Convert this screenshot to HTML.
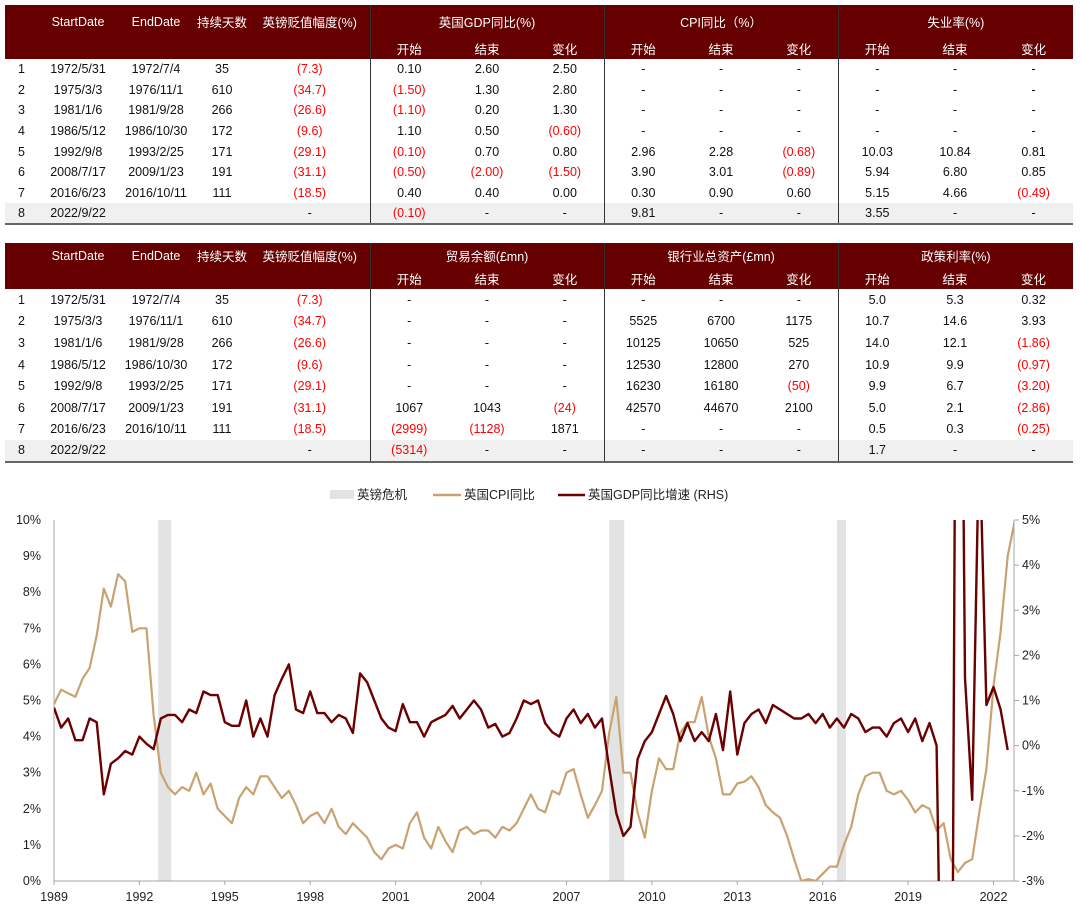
<!DOCTYPE html>
<html><head><meta charset="utf-8">
<style>
body{margin:0;background:#fff;width:1080px;height:906px;overflow:hidden;font-family:"Liberation Sans","Noto Sans CJK SC",sans-serif;position:relative}
table{position:absolute;left:5px;border-collapse:collapse;table-layout:fixed;width:1068px;font-size:12.5px;color:#111}
th{background:#660000;color:#fff;font-weight:normal;font-size:12.5px;padding:0;text-align:center}
td{padding:0;text-align:center;white-space:nowrap}
td.n{color:#f00}
tr.last td{background:#f0f0f0}
.g{border-left:1px solid #333}
table{border-bottom:2px solid #666}
</style></head><body>

<table style="top:5px">
<colgroup><col style="width:33px"><col style="width:80px"><col style="width:76px"><col style="width:56px"><col style="width:120px"><col style="width:78px"><col style="width:78px"><col style="width:78px"><col style="width:78px"><col style="width:78px"><col style="width:78px"><col style="width:78px"><col style="width:78px"><col style="width:79px"></colgroup>
<tr style="height:33px"><th></th><th>StartDate</th><th>EndDate</th><th>持续天数</th><th>英镑贬值幅度(%)</th><th colspan="3" class="g">英国GDP同比(%)</th><th colspan="3" class="g">CPI同比（%）</th><th colspan="3" class="g">失业率(%)</th></tr>
<tr style="height:21px"><th></th><th></th><th></th><th></th><th></th><th class="g">开始</th><th>结束</th><th>变化</th><th class="g">开始</th><th>结束</th><th>变化</th><th class="g">开始</th><th>结束</th><th>变化</th></tr>
<tr style="height:20.6px"><td>1</td><td>1972/5/31</td><td>1972/7/4</td><td>35</td><td class="n">(7.3)</td><td class="g">0.10</td><td>2.60</td><td>2.50</td><td class="g">-</td><td>-</td><td>-</td><td class="g">-</td><td>-</td><td>-</td></tr>
<tr style="height:20.6px"><td>2</td><td>1975/3/3</td><td>1976/11/1</td><td>610</td><td class="n">(34.7)</td><td class="g n">(1.50)</td><td>1.30</td><td>2.80</td><td class="g">-</td><td>-</td><td>-</td><td class="g">-</td><td>-</td><td>-</td></tr>
<tr style="height:20.6px"><td>3</td><td>1981/1/6</td><td>1981/9/28</td><td>266</td><td class="n">(26.6)</td><td class="g n">(1.10)</td><td>0.20</td><td>1.30</td><td class="g">-</td><td>-</td><td>-</td><td class="g">-</td><td>-</td><td>-</td></tr>
<tr style="height:20.6px"><td>4</td><td>1986/5/12</td><td>1986/10/30</td><td>172</td><td class="n">(9.6)</td><td class="g">1.10</td><td>0.50</td><td class="n">(0.60)</td><td class="g">-</td><td>-</td><td>-</td><td class="g">-</td><td>-</td><td>-</td></tr>
<tr style="height:20.6px"><td>5</td><td>1992/9/8</td><td>1993/2/25</td><td>171</td><td class="n">(29.1)</td><td class="g n">(0.10)</td><td>0.70</td><td>0.80</td><td class="g">2.96</td><td>2.28</td><td class="n">(0.68)</td><td class="g">10.03</td><td>10.84</td><td>0.81</td></tr>
<tr style="height:20.6px"><td>6</td><td>2008/7/17</td><td>2009/1/23</td><td>191</td><td class="n">(31.1)</td><td class="g n">(0.50)</td><td class="n">(2.00)</td><td class="n">(1.50)</td><td class="g">3.90</td><td>3.01</td><td class="n">(0.89)</td><td class="g">5.94</td><td>6.80</td><td>0.85</td></tr>
<tr style="height:20.6px"><td>7</td><td>2016/6/23</td><td>2016/10/11</td><td>111</td><td class="n">(18.5)</td><td class="g">0.40</td><td>0.40</td><td>0.00</td><td class="g">0.30</td><td>0.90</td><td>0.60</td><td class="g">5.15</td><td>4.66</td><td class="n">(0.49)</td></tr>
<tr style="height:20.6px" class="last"><td>8</td><td>2022/9/22</td><td></td><td></td><td>-</td><td class="g n">(0.10)</td><td>-</td><td>-</td><td class="g">9.81</td><td>-</td><td>-</td><td class="g">3.55</td><td>-</td><td>-</td></tr>
</table>

<table style="top:243px">
<colgroup><col style="width:33px"><col style="width:80px"><col style="width:76px"><col style="width:56px"><col style="width:120px"><col style="width:78px"><col style="width:78px"><col style="width:78px"><col style="width:78px"><col style="width:78px"><col style="width:78px"><col style="width:78px"><col style="width:78px"><col style="width:79px"></colgroup>
<tr style="height:25px"><th></th><th>StartDate</th><th>EndDate</th><th>持续天数</th><th>英镑贬值幅度(%)</th><th colspan="3" class="g">贸易余额(£mn)</th><th colspan="3" class="g">银行业总资产(£mn)</th><th colspan="3" class="g">政策利率(%)</th></tr>
<tr style="height:21px"><th></th><th></th><th></th><th></th><th></th><th class="g">开始</th><th>结束</th><th>变化</th><th class="g">开始</th><th>结束</th><th>变化</th><th class="g">开始</th><th>结束</th><th>变化</th></tr>
<tr style="height:21.6px"><td>1</td><td>1972/5/31</td><td>1972/7/4</td><td>35</td><td class="n">(7.3)</td><td class="g">-</td><td>-</td><td>-</td><td class="g">-</td><td>-</td><td>-</td><td class="g">5.0</td><td>5.3</td><td>0.32</td></tr>
<tr style="height:21.6px"><td>2</td><td>1975/3/3</td><td>1976/11/1</td><td>610</td><td class="n">(34.7)</td><td class="g">-</td><td>-</td><td>-</td><td class="g">5525</td><td>6700</td><td>1175</td><td class="g">10.7</td><td>14.6</td><td>3.93</td></tr>
<tr style="height:21.6px"><td>3</td><td>1981/1/6</td><td>1981/9/28</td><td>266</td><td class="n">(26.6)</td><td class="g">-</td><td>-</td><td>-</td><td class="g">10125</td><td>10650</td><td>525</td><td class="g">14.0</td><td>12.1</td><td class="n">(1.86)</td></tr>
<tr style="height:21.6px"><td>4</td><td>1986/5/12</td><td>1986/10/30</td><td>172</td><td class="n">(9.6)</td><td class="g">-</td><td>-</td><td>-</td><td class="g">12530</td><td>12800</td><td>270</td><td class="g">10.9</td><td>9.9</td><td class="n">(0.97)</td></tr>
<tr style="height:21.6px"><td>5</td><td>1992/9/8</td><td>1993/2/25</td><td>171</td><td class="n">(29.1)</td><td class="g">-</td><td>-</td><td>-</td><td class="g">16230</td><td>16180</td><td class="n">(50)</td><td class="g">9.9</td><td>6.7</td><td class="n">(3.20)</td></tr>
<tr style="height:21.6px"><td>6</td><td>2008/7/17</td><td>2009/1/23</td><td>191</td><td class="n">(31.1)</td><td class="g">1067</td><td>1043</td><td class="n">(24)</td><td class="g">42570</td><td>44670</td><td>2100</td><td class="g">5.0</td><td>2.1</td><td class="n">(2.86)</td></tr>
<tr style="height:21.6px"><td>7</td><td>2016/6/23</td><td>2016/10/11</td><td>111</td><td class="n">(18.5)</td><td class="g n">(2999)</td><td class="n">(1128)</td><td>1871</td><td class="g">-</td><td>-</td><td>-</td><td class="g">0.5</td><td>0.3</td><td class="n">(0.25)</td></tr>
<tr style="height:21.6px" class="last"><td>8</td><td>2022/9/22</td><td></td><td></td><td>-</td><td class="g n">(5314)</td><td>-</td><td>-</td><td class="g">-</td><td>-</td><td>-</td><td class="g">1.7</td><td>-</td><td>-</td></tr>
</table>

<svg id="chart" width="1080" height="426" style="position:absolute;left:0;top:480px" font-family="Liberation Sans, Noto Sans CJK SC, sans-serif">
<defs><clipPath id="pc"><rect x="54" y="40" width="960" height="361"/></clipPath></defs>
<g id="legend" font-size="12.5" fill="#222">
<rect x="330" y="10" width="24" height="9" fill="#e3e3e3"/>
<text x="357" y="19">英镑危机</text>
<line x1="433" y1="15" x2="461" y2="15" stroke="#c9a272" stroke-width="2.5"/>
<text x="464" y="19">英国CPI同比</text>
<line x1="558" y1="15" x2="585" y2="15" stroke="#6b0000" stroke-width="2.5"/>
<text x="588" y="19">英国GDP同比增速 (RHS)</text>
</g>
<g id="bands"></g>
<g id="axes" stroke="#a6a6a6" stroke-width="1"></g>
<g id="lines" clip-path="url(#pc)"></g>
<g id="labels" font-size="12.5" fill="#222"></g>
</svg>

<script>
const crisisStart = [1992.66, 2008.5, 2016.5];
const crisisEnd = [1993.12, 2009.03, 2016.82];
const xTickYears = [1989,1992,1995,1998,2001,2004,2007,2010,2013,2016,2019,2022];
const leftTicks = [0,1,2,3,4,5,6,7,8,9,10];
const rightTicks = [-3,-2,-1,0,1,2,3,4,5];
const cpiStartYear = 1989;
const cpiValues = [
4.9,5.3,5.2,5.1, 5.6,5.9,6.8,8.1, 7.6,8.5,8.3,6.9, 7.0,7.0,4.6,3.0,
2.6,2.4,2.6,2.5, 3.0,2.4,2.7,2.0, 1.8,1.6,2.3,2.6, 2.4,2.9,2.9,2.6,
2.3,2.5,2.1,1.6, 1.8,1.9,1.6,2.0, 1.5,1.3,1.6,1.4, 1.2,0.8,0.6,0.9,
1.0,0.9,1.6,1.9, 1.2,0.9,1.5,1.1, 0.8,1.4,1.5,1.3, 1.4,1.4,1.2,1.5,
1.4,1.6,2.0,2.4, 2.0,1.9,2.5,2.4, 3.0,3.1,2.4,1.75, 2.1,2.5,4.1,5.1,
3.0,3.0,1.9,1.2, 2.5,3.4,3.1,3.1, 4.1,4.4,4.4,5.1, 4.0,3.4,2.4,2.4,
2.7,2.75,2.9,2.6, 2.1,1.9,1.75,1.25, 0.6,0.0,0.05,0.0, 0.2,0.4,0.4,1.0,
1.5,2.4,2.9,3.0, 3.0,2.5,2.4,2.5, 2.25,1.9,2.1,2.0, 1.4,1.6,0.6,0.25,
0.5,0.6,1.9,3.1, 5.4,6.9,9.0,10.0];
const gdpStartYear = 1989;
const gdpValues = [
0.84,0.4,0.6,0.12, 0.12,0.6,0.52,-1.08, -0.4,-0.28,-0.12,-0.2, 0.2,0.04,-0.08,0.6,
0.68,0.68,0.52,0.8, 0.72,1.2,1.12,1.12, 0.52,0.44,0.44,1.0, 0.2,0.6,0.2,1.12,
1.48,1.8,0.8,0.72, 1.2,0.72,0.72,0.52, 0.68,0.6,0.28,1.6, 1.4,1.0,0.6,0.4,
0.32,0.92,0.52,0.52, 0.2,0.52,0.6,0.68, 0.88,0.6,0.8,1.0, 0.8,0.4,0.48,0.2,
0.28,0.6,1.0,0.92, 1.0,0.5,0.3,0.2, 0.6,0.8,0.5,0.7, 0.4,0.6,-0.5,-1.5,
-2.0,-1.8,-0.3,0.1, 0.3,0.7,1.1,0.7, 0.1,0.5,0.1,0.3, 0.1,0.7,-0.1,1.2,
-0.2,0.5,0.7,0.8, 0.5,0.9,0.8,0.7, 0.6,0.6,0.7,0.5, 0.7,0.4,0.6,0.4,
0.7,0.6,0.3,0.4, 0.4,0.2,0.5,0.6, 0.3,0.6,0.1,0.5, 0.0,-10,-13,20,
1.5,-1.2,7,0.9, 1.3,0.8,-0.1];

const X0=54, PXY=28.47, YB=401, YT=40;
const xs = yr => X0 + (yr-1989)*PXY;
const yL = v => YB - v*(YB-YT)/10;
const yR = v => YB - (v+3)*(YB-YT)/8;
const NS='http://www.w3.org/2000/svg';
function mk(tag, attrs, parent){const e=document.createElementNS(NS,tag);for(const k in attrs)e.setAttribute(k,attrs[k]);parent.appendChild(e);return e;}
const bands=document.getElementById('bands'), axes=document.getElementById('axes'), lines=document.getElementById('lines'), labels=document.getElementById('labels');
crisisStart.forEach((s,i)=>{
  const r=mk('rect',{x:xs(s),y:YT,width:xs(crisisEnd[i])-xs(s),height:YB-YT,fill:'#e3e3e3'},bands);
  
  
});
let a=mk('line',{x1:X0,y1:YT,x2:X0,y2:YB},axes);


a=mk('line',{x1:1014,y1:YT,x2:1014,y2:YB},axes);


a=mk('line',{x1:X0,y1:YB,x2:1014,y2:YB},axes);


leftTicks.forEach(v=>{
  const t=mk('text',{x:41,y:yL(v)+4,'text-anchor':'end'},labels);t.textContent=v+'%';
  
  
});
rightTicks.forEach(v=>{
  mk('line',{x1:1014,y1:yR(v),x2:1019,y2:yR(v)},axes);
  const t=mk('text',{x:1022,y:yR(v)+4},labels);t.textContent=v+'%';
  
  
});
xTickYears.forEach(yr=>{
  mk('line',{x1:xs(yr),y1:YB,x2:xs(yr),y2:YB+4},axes);
  const t=mk('text',{x:xs(yr),y:YB+20,'text-anchor':'middle'},labels);t.textContent=yr;
  
  
});
const cpiPts=cpiValues.map((v,i)=>xs(cpiStartYear+i*0.25).toFixed(1)+','+yL(v).toFixed(1)).join(' ');
const cpi=mk('polyline',{points:cpiPts,fill:'none',stroke:'#c9a272','stroke-width':2.2,'stroke-linejoin':'round'},lines);


const gdpPts=gdpValues.map((v,i)=>xs(gdpStartYear+i*0.25).toFixed(1)+','+yR(v).toFixed(1)).join(' ');
const gdp=mk('polyline',{points:gdpPts,fill:'none',stroke:'#6b0000','stroke-width':2.4,'stroke-linejoin':'round'},lines);


</script>
</body></html>
